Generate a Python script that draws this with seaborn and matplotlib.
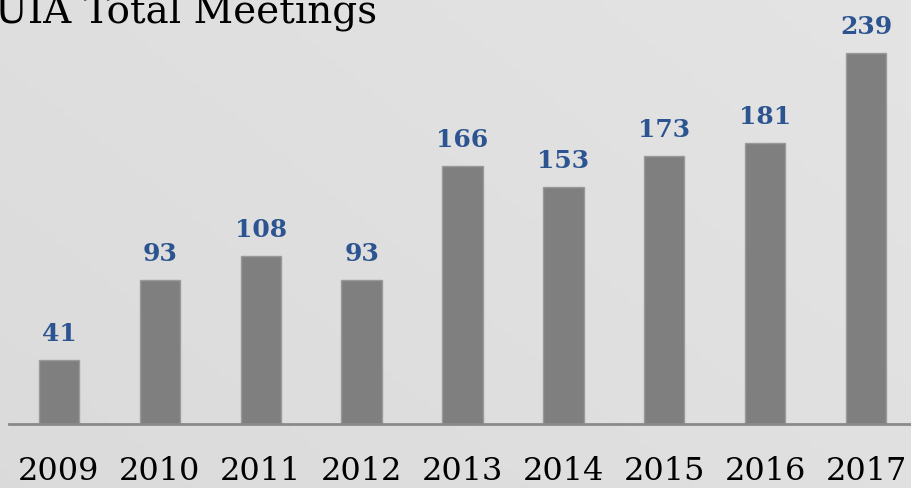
import matplotlib
matplotlib.use("Agg")
import matplotlib.pyplot as plt
import seaborn as sns
import numpy as np
import pandas as pd

years = ["2009", "2010", "2011", "2012", "2013", "2014", "2015", "2016", "2017"]
meetings = [41, 93, 108, 93, 166, 153, 173, 181, 239]
title = "UIA Total Meetings"

sns.set_theme(style="white")
plt.rcParams['font.family'] = ['DejaVu Serif', 'Liberation Serif']

W, H = 912, 488
fig = plt.figure(figsize=(W / 100, H / 100), dpi=100)

# background gradient
bg = fig.add_axes([0, 0, 1, 1], zorder=-10)
yy, xx = np.mgrid[0:1:100j, 0:1:100j]
grad = 0.855 + 0.035 * (0.6 * xx + 0.4 * yy)
bg.imshow(grad, cmap="gray", vmin=0, vmax=1, aspect="auto", origin="lower",
          extent=[0, 1, 0, 1])
bg.axis("off")

ax = fig.add_axes([8.5 / W, (H - 424) / H, 908 / W, 424 / H])
ax.patch.set_alpha(0)
df = pd.DataFrame({"year": years, "meetings": meetings})
sns.barplot(data=df, x="year", y="meetings", color="#7F7F7F", width=0.4,
            saturation=1, edgecolor="#9A9A9A", linewidth=1, ax=ax)
ax.set_ylim(0, 424 / 1.552)
ax.set_xlim(-0.5, len(years) - 0.5)
for c in ax.containers:
    ax.bar_label(c, labels=[str(v) for v in meetings], padding=10,
                 fontsize=18, fontweight="bold", color="#2B5490")
for s in ["top", "right", "left"]:
    ax.spines[s].set_visible(False)
ax.spines["bottom"].set_color("#8A8A8A")
ax.spines["bottom"].set_linewidth(2)
ax.set_yticks([])
ax.set_xlabel("")
ax.set_ylabel("")
ax.tick_params(axis="x", length=0, pad=23, labelsize=23, labelcolor="black")

fig.text(377 / W, 1 - 23 / H, title, ha="right", va="baseline",
         fontsize=28, color="black")

fig.savefig("out.png", dpi=100)
